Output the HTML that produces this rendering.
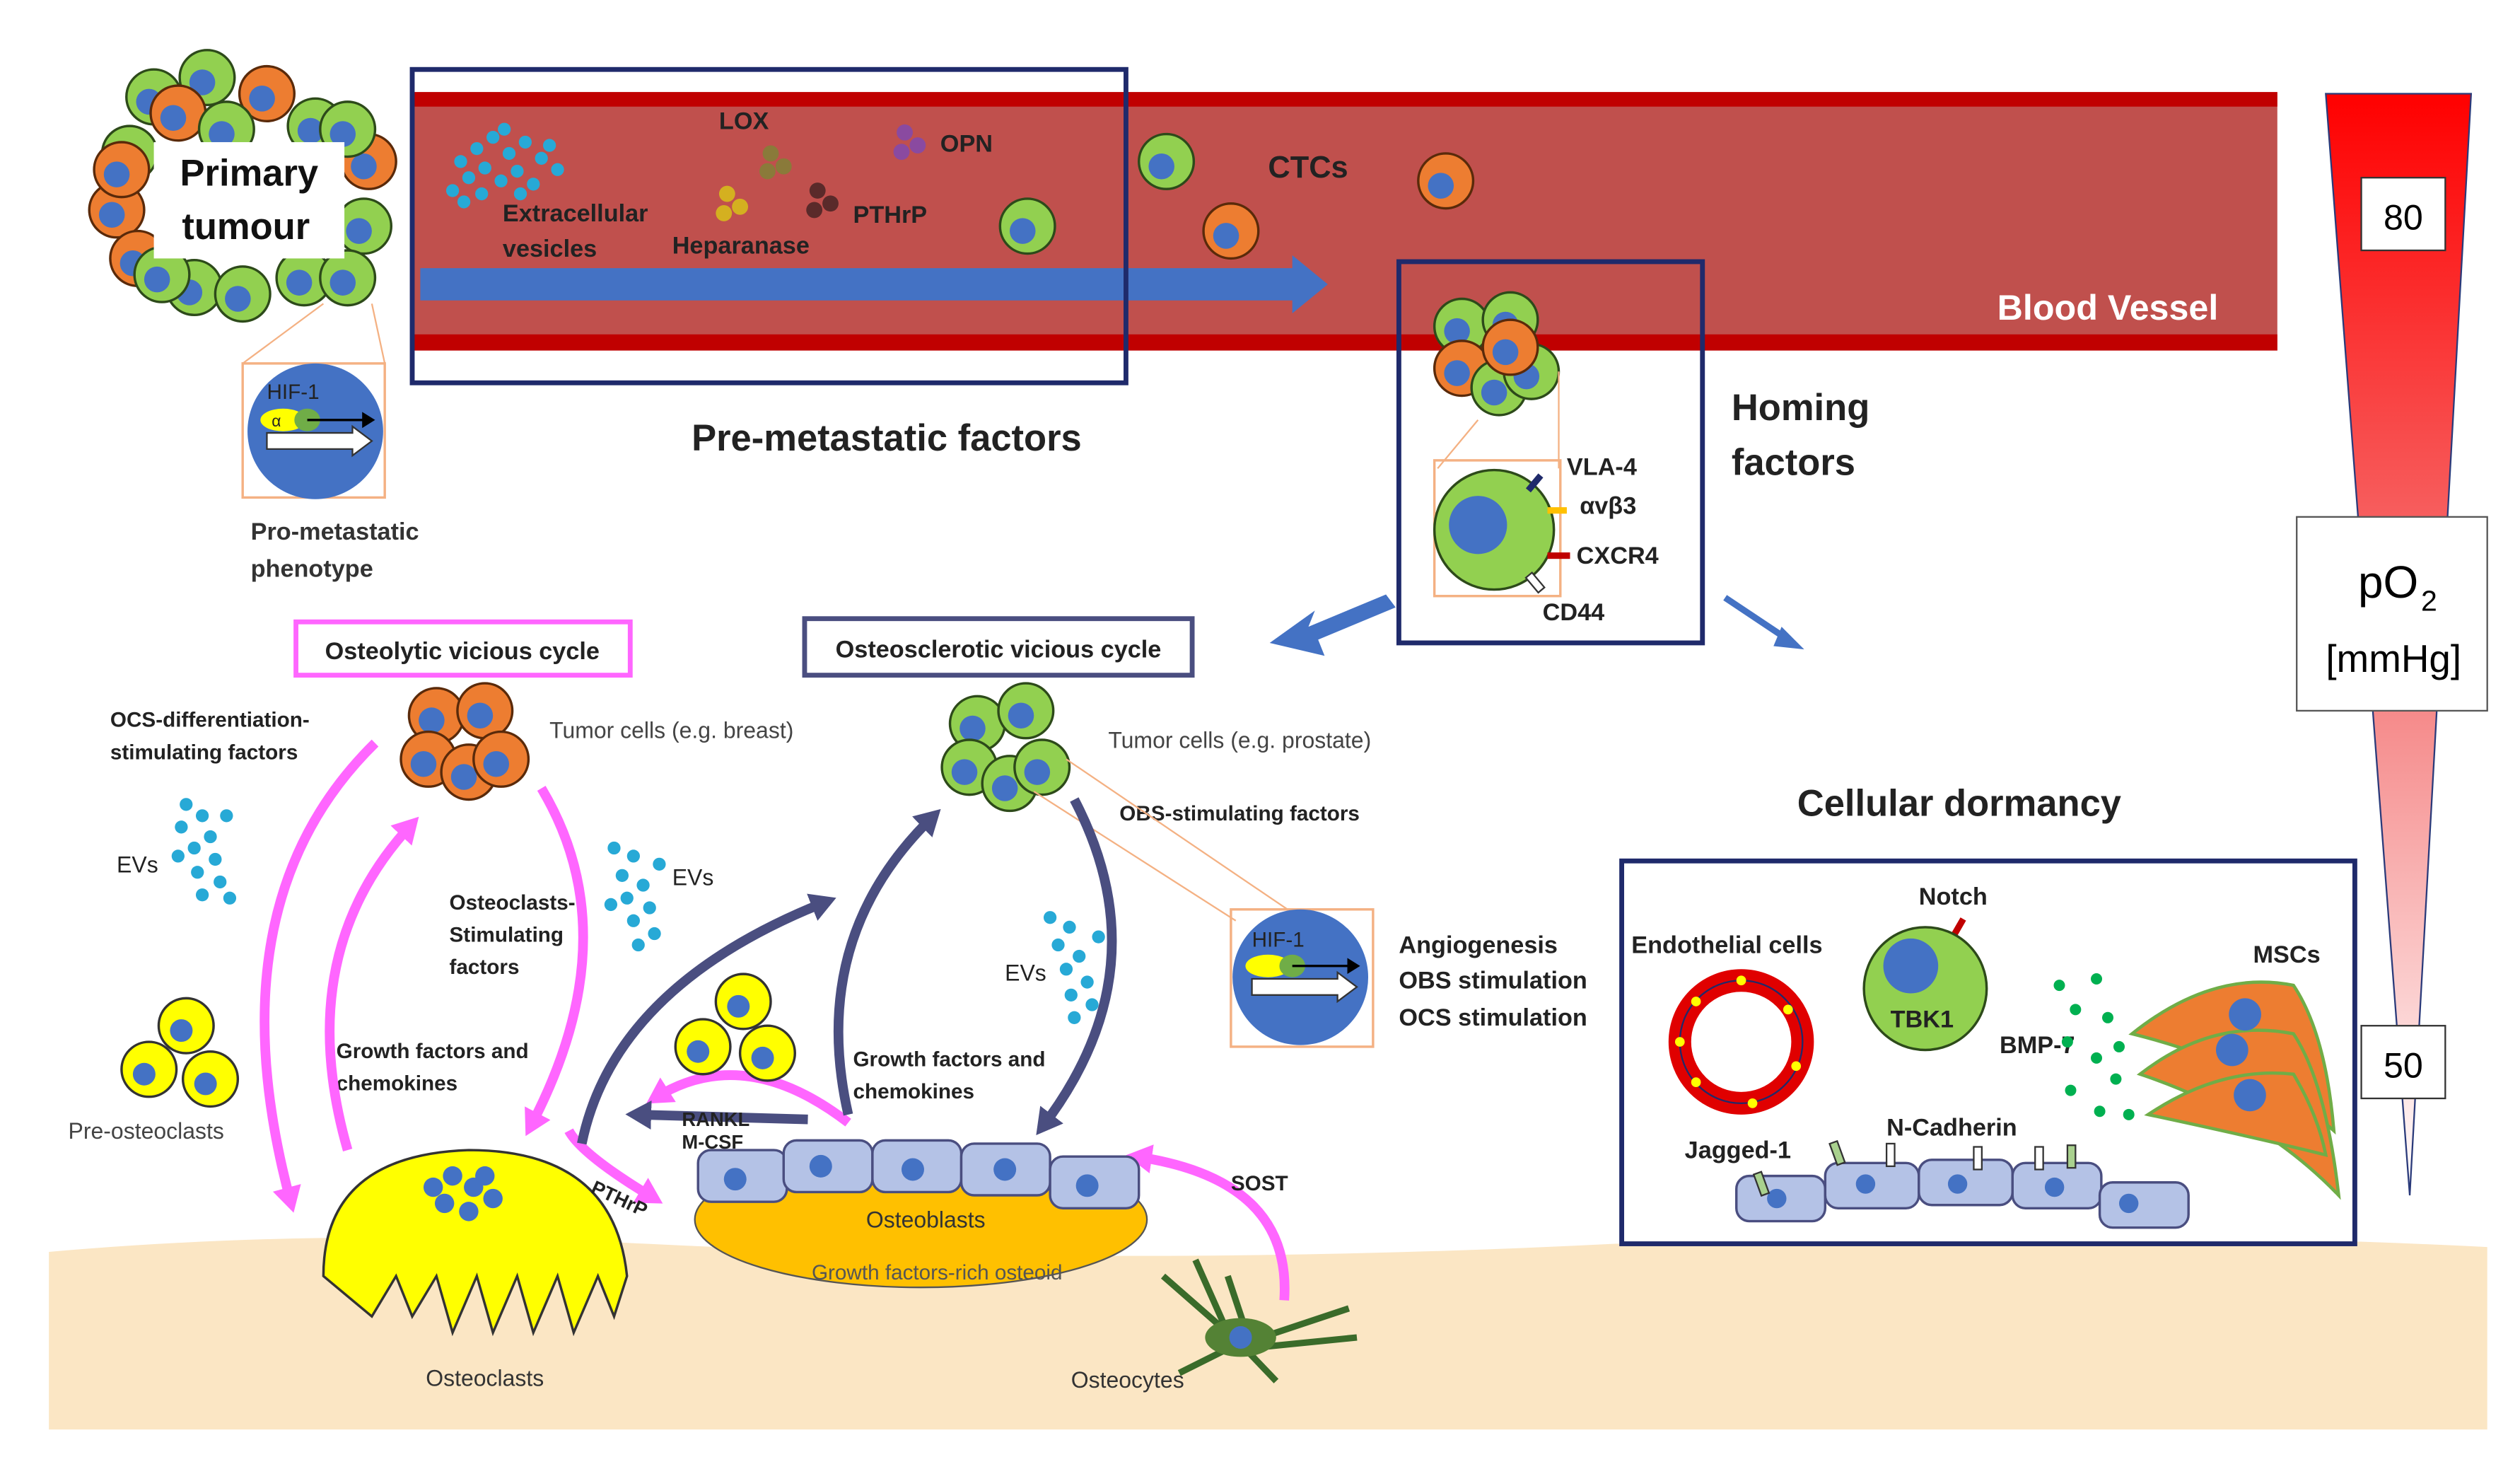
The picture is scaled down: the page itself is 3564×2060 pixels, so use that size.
<!DOCTYPE html>
<html><head><meta charset="utf-8"><style>
html,body{margin:0;padding:0;background:#fff}
svg{display:block}
text{font-family:"Liberation Sans",sans-serif}
</style></head><body>
<svg width="3564" height="2060" viewBox="0 0 1560 902" xmlns="http://www.w3.org/2000/svg">
<defs>
<linearGradient id="po" x1="0" y1="0" x2="0" y2="1"><stop offset="0" stop-color="#ff0000"/><stop offset="0.5" stop-color="#f47a7a"/><stop offset="1" stop-color="#ffffff"/></linearGradient>
<g id="gc"><circle r="17" fill="#92d050" stroke="#2d4a1a" stroke-width="1.5"/><circle cx="-3" cy="3" r="8" fill="#4472c4"/></g>
<g id="oc"><circle r="17" fill="#ed7d31" stroke="#5a2a0a" stroke-width="1.5"/><circle cx="-3" cy="3" r="8" fill="#4472c4"/></g>
<g id="yc"><circle r="17" fill="#ffff00" stroke="#333" stroke-width="1.5"/><circle cx="-3" cy="3" r="7" fill="#4472c4"/></g>
<marker id="mm" markerWidth="18" markerHeight="18" refX="10" refY="9" orient="auto" markerUnits="userSpaceOnUse"><path d="M0,0 L16,9 L0,18 z" fill="#ff66ff"/></marker>
<marker id="mn" markerWidth="18" markerHeight="18" refX="10" refY="9" orient="auto" markerUnits="userSpaceOnUse"><path d="M0,0 L16,9 L0,18 z" fill="#4a4e80"/></marker>
<marker id="mk" markerWidth="10" markerHeight="10" refX="6" refY="5" orient="auto" markerUnits="userSpaceOnUse"><path d="M0,0 L8,5 L0,10 z" fill="#000"/></marker>
</defs>
<path d="M30,775 Q200,760 400,770 Q700,785 1000,770 Q1300,760 1540,772 L1540,885 L30,885 Z" fill="#fbe6c4"/>
<rect x="255" y="57" width="1155" height="160" fill="#c0504d"/>
<rect x="255" y="57" width="1155" height="9" fill="#c00000"/>
<rect x="255" y="207" width="1155" height="10" fill="#c00000"/>
<text x="1305" y="198" font-size="22" font-weight="bold" fill="#fff" text-anchor="middle">Blood Vessel</text>
<path d="M260,166 L800,166 L800,158 L822,176 L800,194 L800,186 L260,186 Z" fill="#4472c4"/>
<rect x="255" y="43" width="442" height="194" fill="none" stroke="#1f2a6b" stroke-width="3"/>
<g fill="#27a9d6">
<circle cx="285" cy="100" r="4"/><circle cx="295" cy="92" r="4"/><circle cx="305" cy="85" r="4"/><circle cx="315" cy="95" r="4"/><circle cx="325" cy="88" r="4"/><circle cx="335" cy="98" r="4"/><circle cx="345" cy="105" r="4"/><circle cx="290" cy="110" r="4"/><circle cx="300" cy="104" r="4"/><circle cx="310" cy="112" r="4"/><circle cx="320" cy="106" r="4"/><circle cx="330" cy="114" r="4"/><circle cx="280" cy="118" r="4"/><circle cx="298" cy="120" r="4"/><circle cx="312" cy="80" r="4"/><circle cx="340" cy="90" r="4"/><circle cx="322" cy="120" r="4"/><circle cx="287" cy="125" r="4"/></g>
<text x="311" y="137" font-size="15" font-weight="bold" fill="#222">Extracellular</text>
<text x="311" y="159" font-size="15" font-weight="bold" fill="#222">vesicles</text>
<text x="445" y="80" font-size="15" font-weight="bold" fill="#222">LOX</text>
<g fill="#8a7a3a"><circle cx="477" cy="95" r="5"/><circle cx="485" cy="103" r="5"/><circle cx="475" cy="106" r="5"/></g>
<g fill="#d4b020"><circle cx="450" cy="120" r="5"/><circle cx="458" cy="128" r="5"/><circle cx="448" cy="132" r="5"/></g>
<g fill="#5a2a2a"><circle cx="506" cy="118" r="5"/><circle cx="514" cy="126" r="5"/><circle cx="504" cy="130" r="5"/></g>
<g fill="#8a4aa0"><circle cx="560" cy="82" r="5"/><circle cx="568" cy="90" r="5"/><circle cx="558" cy="94" r="5"/></g>
<text x="416" y="157" font-size="15" font-weight="bold" fill="#222">Heparanase</text>
<text x="528" y="138" font-size="15" font-weight="bold" fill="#222">PTHrP</text>
<text x="582" y="94" font-size="15" font-weight="bold" fill="#222">OPN</text>
<use href="#gc" x="636" y="140"/><use href="#gc" x="722" y="100"/><use href="#oc" x="762" y="143"/><use href="#oc" x="895" y="112"/>
<text x="785" y="110" font-size="19" font-weight="bold" fill="#222">CTCs</text>
<!-- primary tumour -->
<use href="#gc" x="95" y="60"/><use href="#gc" x="128" y="48"/><use href="#oc" x="165" y="58"/><use href="#gc" x="195" y="78"/><use href="#oc" x="228" y="100"/><use href="#gc" x="80" y="95"/><use href="#oc" x="72" y="130"/><use href="#oc" x="85" y="160"/><use href="#gc" x="225" y="140"/><use href="#gc" x="120" y="178"/><use href="#gc" x="150" y="182"/><use href="#gc" x="188" y="172"/><use href="#gc" x="215" y="172"/><use href="#oc" x="110" y="70"/><use href="#gc" x="100" y="170"/><use href="#oc" x="75" y="105"/><use href="#gc" x="215" y="80"/><use href="#gc" x="140" y="80"/>
<rect x="95" y="88" width="118" height="72" fill="#fff"/>
<text x="154" y="115" font-size="23" font-weight="bold" text-anchor="middle" fill="#111">Primary</text>
<text x="152" y="148" font-size="23" font-weight="bold" text-anchor="middle" fill="#111">tumour</text>
<path d="M200,188 L150,225 M230,188 L238,225" stroke="#f4b183" stroke-width="1"/>
<rect x="150" y="225" width="88" height="83" fill="none" stroke="#f4b183" stroke-width="1.5"/>
<circle cx="195" cy="267" r="42" fill="#4472c4"/>
<text x="165" y="247" font-size="13" fill="#222">HIF-1</text>
<ellipse cx="175" cy="260" rx="14" ry="7" fill="#ffff00"/><ellipse cx="190" cy="260" rx="8" ry="7" fill="#70ad47"/>
<text x="168" y="264" font-size="10" fill="#222">α</text>
<path d="M190,260 L230,260" stroke="#000" stroke-width="1.5" marker-end="url(#mk)"/>
<path d="M165,268 L218,268 L218,264 L230,273 L218,282 L218,278 L165,278 Z" fill="#fff" stroke="#333"/>
<text x="155" y="334" font-size="15" font-weight="bold" fill="#333">Pro-metastatic</text>
<text x="155" y="357" font-size="15" font-weight="bold" fill="#333">phenotype</text>
<text x="428" y="279" font-size="23" font-weight="bold" fill="#222">Pre-metastatic factors</text>
<rect x="866" y="162" width="188" height="236" fill="none" stroke="#1f2a6b" stroke-width="3"/>
<use href="#gc" x="905" y="202"/><use href="#gc" x="935" y="198"/><use href="#oc" x="905" y="228"/><use href="#gc" x="928" y="240"/><use href="#gc" x="948" y="230"/><use href="#oc" x="935" y="215"/>
<path d="M915,260 L890,290 M965,230 L965,290" stroke="#f4b183"/>
<rect x="888" y="285" width="78" height="84" fill="none" stroke="#f4b183" stroke-width="1.5"/>
<circle cx="925" cy="328" r="37" fill="#92d050" stroke="#2d4a1a" stroke-width="1.5"/><circle cx="915" cy="325" r="18" fill="#4472c4"/>
<rect x="948" y="293" width="4" height="12" fill="#1f2a6b" transform="rotate(40 950 299)"/>
<rect x="958" y="314" width="12" height="4" fill="#ffc000"/>
<rect x="958" y="342" width="14" height="4" fill="#c00000"/>
<rect x="948" y="355" width="5" height="12" fill="#fff" stroke="#333" transform="rotate(-40 950 361)"/>
<text x="970" y="294" font-size="15" font-weight="bold" fill="#222">VLA-4</text>
<text x="978" y="318" font-size="15" font-weight="bold" fill="#222">αvβ3</text>
<text x="976" y="349" font-size="15" font-weight="bold" fill="#222">CXCR4</text>
<text x="955" y="384" font-size="15" font-weight="bold" fill="#222">CD44</text>
<text x="1072" y="260" font-size="23" font-weight="bold" fill="#222">Homing</text>
<text x="1072" y="294" font-size="23" font-weight="bold" fill="#222">factors</text>
<path d="M858,368 L810,388 L814,378 L786,398 L820,406 L816,396 L864,376 Z" fill="#4472c4"/>
<path d="M1068,370 L1110,398" stroke="#4472c4" stroke-width="4"/><path d="M1103,388 L1117,402 L1098,400 Z" fill="#4472c4"/>
<path d="M1440,58 L1530,58 L1492,740 Z" fill="url(#po)" stroke="#2a3a7a" stroke-width="1"/>
<rect x="1462" y="110" width="52" height="45" fill="#fff" stroke="#333"/><text x="1488" y="142" font-size="22" text-anchor="middle">80</text>
<rect x="1422" y="320" width="118" height="120" fill="#fff" stroke="#555"/>
<text x="1460" y="370" font-size="28">pO</text><text x="1499" y="378" font-size="18">2</text>
<text x="1482" y="416" font-size="24" text-anchor="middle">[mmHg]</text>
<rect x="1462" y="635" width="52" height="45" fill="#fff" stroke="#333"/><text x="1488" y="667" font-size="22" text-anchor="middle">50</text>
<rect x="183" y="385" width="207" height="33" fill="#fff" stroke="#ff66ff" stroke-width="3"/>
<text x="286" y="408" font-size="15" font-weight="bold" text-anchor="middle" fill="#222">Osteolytic vicious cycle</text>
<rect x="498" y="383" width="240" height="35" fill="#fff" stroke="#4a4e80" stroke-width="3"/>
<text x="618" y="407" font-size="15" font-weight="bold" text-anchor="middle" fill="#222">Osteosclerotic vicious cycle</text>
<use href="#oc" x="270" y="443"/><use href="#oc" x="300" y="440"/><use href="#oc" x="265" y="470"/><use href="#oc" x="290" y="478"/><use href="#oc" x="310" y="470"/>
<text x="340" y="457" font-size="14" fill="#444">Tumor cells (e.g. breast)</text>
<text x="68" y="450" font-size="13" font-weight="bold" fill="#222">OCS-differentiation-</text>
<text x="68" y="470" font-size="13" font-weight="bold" fill="#222">stimulating factors</text>
<text x="72" y="540" font-size="14" fill="#222">EVs</text>
<g fill="#27a9d6"><circle cx="115" cy="498" r="4"/><circle cx="125" cy="505" r="4"/><circle cx="112" cy="512" r="4"/><circle cx="130" cy="518" r="4"/><circle cx="120" cy="525" r="4"/><circle cx="133" cy="532" r="4"/><circle cx="122" cy="540" r="4"/><circle cx="136" cy="546" r="4"/><circle cx="125" cy="554" r="4"/><circle cx="142" cy="556" r="4"/><circle cx="110" cy="530" r="4"/><circle cx="140" cy="505" r="4"/></g>
<g fill="#27a9d6"><circle cx="380" cy="525" r="4"/><circle cx="392" cy="530" r="4"/><circle cx="385" cy="542" r="4"/><circle cx="398" cy="548" r="4"/><circle cx="388" cy="556" r="4"/><circle cx="402" cy="562" r="4"/><circle cx="392" cy="570" r="4"/><circle cx="405" cy="578" r="4"/><circle cx="395" cy="585" r="4"/><circle cx="378" cy="560" r="4"/><circle cx="408" cy="535" r="4"/></g>
<text x="416" y="548" font-size="14" fill="#222">EVs</text>
<text x="278" y="563" font-size="13" font-weight="bold" fill="#222">Osteoclasts-</text>
<text x="278" y="583" font-size="13" font-weight="bold" fill="#222">Stimulating</text>
<text x="278" y="603" font-size="13" font-weight="bold" fill="#222">factors</text>
<text x="208" y="655" font-size="13" font-weight="bold" fill="#222">Growth factors and</text>
<text x="208" y="675" font-size="13" font-weight="bold" fill="#222">chemokines</text>
<use href="#yc" x="115" y="635"/><use href="#yc" x="92" y="662"/><use href="#yc" x="130" y="668"/>
<text x="42" y="705" font-size="14" fill="#444">Pre-osteoclasts</text>
<g fill="none" stroke="#ff66ff" stroke-width="6">
<path d="M232,460 Q130,560 180,745" marker-end="url(#mm)"/>
<path d="M215,712 Q180,590 255,510" marker-end="url(#mm)"/>
<path d="M335,488 Q390,580 328,698" marker-end="url(#mm)"/>
<path d="M352,700 Q360,715 405,742" marker-end="url(#mm)"/>
<path d="M525,695 Q460,645 405,680" marker-end="url(#mm)"/>
<path d="M795,805 Q800,730 703,716" marker-end="url(#mm)"/>
</g>
<path d="M200,790 Q200,715 290,712 Q380,712 388,790 L380,815 L370,790 L355,825 L345,790 L330,825 L320,790 L305,825 L295,790 L280,825 L270,790 L255,815 L245,790 L230,815 Z" fill="#ffff00" stroke="#333" stroke-width="1.5"/>
<g fill="#4472c4"><circle cx="268" cy="735" r="6"/><circle cx="280" cy="728" r="6"/><circle cx="293" cy="735" r="6"/><circle cx="305" cy="742" r="6"/><circle cx="275" cy="745" r="6"/><circle cx="290" cy="750" r="6"/><circle cx="300" cy="728" r="6"/></g>
<text x="300" y="858" font-size="14" fill="#333" text-anchor="middle">Osteoclasts</text>
<use href="#gc" x="605" y="448"/><use href="#gc" x="635" y="440"/><use href="#gc" x="600" y="475"/><use href="#gc" x="625" y="485"/><use href="#gc" x="645" y="475"/>
<text x="686" y="463" font-size="14" fill="#444">Tumor cells (e.g. prostate)</text>
<text x="693" y="508" font-size="13" font-weight="bold" fill="#222">OBS-stimulating factors</text>
<path d="M640,490 L765,570 M660,470 L800,565" stroke="#f4b183"/>
<rect x="762" y="563" width="88" height="85" fill="none" stroke="#f4b183" stroke-width="1.5"/>
<circle cx="805" cy="605" r="42" fill="#4472c4"/>
<text x="775" y="586" font-size="13" fill="#222">HIF-1</text>
<ellipse cx="785" cy="598" rx="14" ry="7" fill="#ffff00"/><ellipse cx="800" cy="598" rx="8" ry="7" fill="#70ad47"/>
<path d="M800,598 L840,598" stroke="#000" stroke-width="1.5" marker-end="url(#mk)"/>
<path d="M775,606 L828,606 L828,602 L840,611 L828,620 L828,616 L775,616 Z" fill="#fff" stroke="#333"/>
<text x="866" y="590" font-size="15" font-weight="bold" fill="#222">Angiogenesis</text>
<text x="866" y="612" font-size="15" font-weight="bold" fill="#222">OBS stimulation</text>
<text x="866" y="635" font-size="15" font-weight="bold" fill="#222">OCS stimulation</text>
<g fill="#27a9d6"><circle cx="650" cy="568" r="4"/><circle cx="662" cy="574" r="4"/><circle cx="655" cy="585" r="4"/><circle cx="668" cy="592" r="4"/><circle cx="660" cy="600" r="4"/><circle cx="673" cy="608" r="4"/><circle cx="663" cy="616" r="4"/><circle cx="676" cy="622" r="4"/><circle cx="665" cy="630" r="4"/><circle cx="680" cy="580" r="4"/></g>
<text x="622" y="607" font-size="14" fill="#222">EVs</text>
<text x="528" y="660" font-size="13" font-weight="bold" fill="#222">Growth factors and</text>
<text x="528" y="680" font-size="13" font-weight="bold" fill="#222">chemokines</text>
<use href="#yc" x="460" y="620"/><use href="#yc" x="435" y="648"/><use href="#yc" x="475" y="652"/>
<g fill="none" stroke="#4a4e80" stroke-width="6">
<path d="M665,495 Q720,600 645,698" marker-end="url(#mn)"/>
<path d="M525,690 Q500,580 578,505" marker-end="url(#mn)"/>
<path d="M360,708 Q380,610 512,558" marker-end="url(#mn)"/>
<path d="M500,693 L393,690" marker-end="url(#mn)"/>
</g>
<text x="422" y="697" font-size="12" font-weight="bold" fill="#222">RANKL</text>
<text x="422" y="711" font-size="12" font-weight="bold" fill="#222">M-CSF</text>
<text x="365" y="738" font-size="12" font-weight="bold" fill="#222" transform="rotate(25 365 738)">PTHrP</text>
<ellipse cx="570" cy="755" rx="140" ry="42" fill="#ffc000" stroke="#555"/>
<g fill="#b4c2e6" stroke="#4a4e80" stroke-width="1.5">
<rect x="432" y="712" width="55" height="32" rx="8"/><rect x="485" y="706" width="55" height="32" rx="8"/><rect x="540" y="706" width="55" height="32" rx="8"/><rect x="595" y="708" width="55" height="32" rx="8"/><rect x="650" y="716" width="55" height="32" rx="8"/></g>
<g fill="#4472c4"><circle cx="455" cy="730" r="7"/><circle cx="508" cy="722" r="7"/><circle cx="565" cy="724" r="7"/><circle cx="622" cy="724" r="7"/><circle cx="673" cy="734" r="7"/></g>
<text x="573" y="760" font-size="14" fill="#333" text-anchor="middle">Osteoblasts</text>
<text x="580" y="792" font-size="13" fill="#555" text-anchor="middle">Growth factors-rich osteoid</text>
<text x="762" y="737" font-size="13" font-weight="bold" fill="#222">SOST</text>
<g stroke="#3a6b2a" stroke-width="4" fill="none"><path d="M760,825 L720,790 M760,825 L740,780 M770,820 L760,790 M775,830 L835,810 M770,835 L840,828 M760,835 L730,850 M768,832 L790,855"/></g>
<ellipse cx="768" cy="828" rx="22" ry="12" fill="#548235"/><circle cx="768" cy="828" r="7" fill="#4472c4"/>
<text x="698" y="859" font-size="14" fill="#333" text-anchor="middle">Osteocytes</text>
<text x="1213" y="505" font-size="23" font-weight="bold" fill="#222" text-anchor="middle">Cellular dormancy</text>
<rect x="1004" y="533" width="454" height="237" fill="#fff" stroke="#1f2a6b" stroke-width="3"/>
<text x="1010" y="590" font-size="15" font-weight="bold" fill="#222">Endothelial cells</text>
<circle cx="1078" cy="645" r="38" fill="none" stroke="#e00000" stroke-width="14"/>
<circle cx="1078" cy="645" r="38" fill="none" stroke="#1f2a6b" stroke-width="1"/>
<g fill="#ffff00"><circle cx="1050" cy="620" r="3"/><circle cx="1078" cy="607" r="3"/><circle cx="1107" cy="625" r="3"/><circle cx="1112" cy="660" r="3"/><circle cx="1085" cy="683" r="3"/><circle cx="1050" cy="670" r="3"/><circle cx="1040" cy="645" r="3"/></g>
<text x="1188" y="560" font-size="15" font-weight="bold" fill="#222">Notch</text>
<rect x="1210" y="568" width="4" height="14" fill="#c00000" transform="rotate(30 1212 575)"/>
<circle cx="1192" cy="612" r="38" fill="#92d050" stroke="#2d4a1a" stroke-width="1.5"/><circle cx="1183" cy="598" r="17" fill="#4472c4"/>
<text x="1190" y="636" font-size="15" font-weight="bold" fill="#222" text-anchor="middle">TBK1</text>
<text x="1238" y="652" font-size="15" font-weight="bold" fill="#222">BMP-7</text>
<g fill="#00b050"><circle cx="1275" cy="610" r="3.5"/><circle cx="1298" cy="606" r="3.5"/><circle cx="1285" cy="625" r="3.5"/><circle cx="1305" cy="630" r="3.5"/><circle cx="1280" cy="645" r="3.5"/><circle cx="1298" cy="655" r="3.5"/><circle cx="1310" cy="668" r="3.5"/><circle cx="1282" cy="675" r="3.5"/><circle cx="1300" cy="688" r="3.5"/><circle cx="1318" cy="690" r="3.5"/><circle cx="1312" cy="648" r="3.5"/></g>
<text x="1395" y="596" font-size="15" font-weight="bold" fill="#222">MSCs</text>
<g fill="#ed7d31" stroke="#70ad47" stroke-width="2">
<path d="M1320,640 Q1370,600 1420,610 Q1440,640 1445,700 Q1400,660 1320,640 Z"/>
<path d="M1325,665 Q1370,630 1420,640 Q1440,670 1448,740 Q1400,690 1325,665 Z"/>
<path d="M1330,690 Q1375,660 1420,665 Q1435,690 1440,715 Q1400,705 1330,690 Z"/>
</g>
<g fill="#4472c4"><circle cx="1390" cy="628" r="10"/><circle cx="1382" cy="650" r="10"/><circle cx="1393" cy="678" r="10"/></g>
<text x="1043" y="717" font-size="15" font-weight="bold" fill="#222">Jagged-1</text>
<text x="1168" y="703" font-size="15" font-weight="bold" fill="#222">N-Cadherin</text>
<g fill="#b4c2e6" stroke="#4a4e80" stroke-width="1.5">
<rect x="1075" y="728" width="55" height="28" rx="8"/><rect x="1130" y="720" width="58" height="28" rx="8"/><rect x="1188" y="718" width="58" height="28" rx="8"/><rect x="1246" y="720" width="55" height="28" rx="8"/><rect x="1300" y="732" width="55" height="28" rx="8"/></g>
<g fill="#4472c4"><circle cx="1100" cy="742" r="6"/><circle cx="1155" cy="733" r="6"/><circle cx="1212" cy="733" r="6"/><circle cx="1272" cy="735" r="6"/><circle cx="1318" cy="745" r="6"/></g>
<g fill="#a9d18e" stroke="#333"><rect x="1088" y="726" width="5" height="14" transform="rotate(-20 1090 733)"/><rect x="1135" y="707" width="5" height="14" transform="rotate(-20 1137 714)"/><rect x="1280" y="709" width="5" height="14"/></g>
<g fill="#fff" stroke="#333"><rect x="1168" y="708" width="5" height="14"/><rect x="1222" y="710" width="5" height="14"/><rect x="1260" y="710" width="5" height="14"/></g>
</svg>
</body></html>
